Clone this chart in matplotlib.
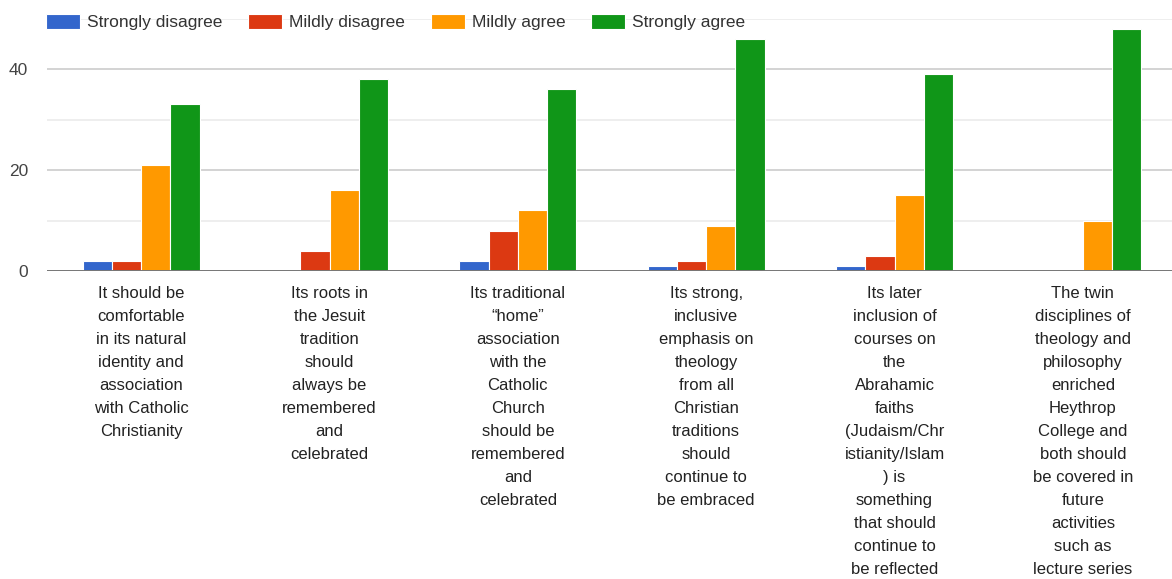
import numpy as np
import matplotlib
matplotlib.use('Agg')
import matplotlib.pyplot as plt

plt.rcParams['font.family'] = ['Liberation Sans', 'DejaVu Sans']

categories = [
    "It should be\ncomfortable\nin its natural\nidentity and\nassociation\nwith Catholic\nChristianity",
    "Its roots in\nthe Jesuit\ntradition\nshould\nalways be\nremembered\nand\ncelebrated",
    "Its traditional\n\u201chome\u201d\nassociation\nwith the\nCatholic\nChurch\nshould be\nremembered\nand\ncelebrated",
    "Its strong,\ninclusive\nemphasis on\ntheology\nfrom all\nChristian\ntraditions\nshould\ncontinue to\nbe embraced",
    "Its later\ninclusion of\ncourses on\nthe\nAbrahamic\nfaiths\n(Judaism/Chr\nistianity/Islam\n) is\nsomething\nthat should\ncontinue to\nbe reflected",
    "The twin\ndisciplines of\ntheology and\nphilosophy\nenriched\nHeythrop\nCollege and\nboth should\nbe covered in\nfuture\nactivities\nsuch as\nlecture series",
]
series_names = ['Strongly disagree', 'Mildly disagree', 'Mildly agree', 'Strongly agree']
strongly_disagree = [2, 0, 2, 1, 1, 0]
mildly_disagree = [2, 4, 8, 2, 3, 0]
mildly_agree = [21, 16, 12, 9, 15, 10]
strongly_agree = [33, 38, 36, 46, 39, 48]
colors = ['#3366cc', '#dc3912', '#ff9900', '#109618']

W, H = 1172, 579
fig = plt.figure(figsize=(W / 100, H / 100), dpi=100)
ax = fig.add_axes([47 / W, (H - 271) / H, 1130 / W, (271 - 18.5) / H])

x = np.arange(len(categories))
bw = 0.1556
all_series = [strongly_disagree, mildly_disagree, mildly_agree, strongly_agree]
for i, (vals, name, c) in enumerate(zip(all_series, series_names, colors)):
    ax.bar(x + (i - 1.5) * bw, vals, bw, color=c, edgecolor='white', linewidth=0.8,
           label=name, zorder=2)

ax.set_xlim(-0.5, len(categories) - 0.5)
ax.set_ylim(0, 50)
ax.set_yticks([0, 20, 40])
ax.set_yticks([10, 30, 50], minor=True)
ax.grid(which='major', axis='y', color='#cccccc', lw=1.2, zorder=0)
ax.grid(which='minor', axis='y', color='#ebebeb', lw=1.2, zorder=0)
ax.axhline(0, color='#777777', lw=1.4, zorder=3)
for s in ax.spines.values():
    s.set_visible(False)

ax.tick_params(axis='y', which='both', length=0, pad=13.5, labelsize=12.5, labelcolor='#444444')
ax.set_xticks(x)
ax.set_xticklabels(categories, fontsize=12, color='#222222', linespacing=1.67)
ax.tick_params(axis='x', length=0, pad=10.5)

fig.legend(loc='upper left', bbox_to_anchor=(46 / W, 1 - 14 / H), ncol=4, frameon=False,
           fontsize=12.5, handlelength=1.95, handleheight=0.92, handletextpad=0.4,
           columnspacing=1.5, borderpad=0, borderaxespad=0, labelcolor='#333333')

fig.savefig('out.png', dpi=100)
